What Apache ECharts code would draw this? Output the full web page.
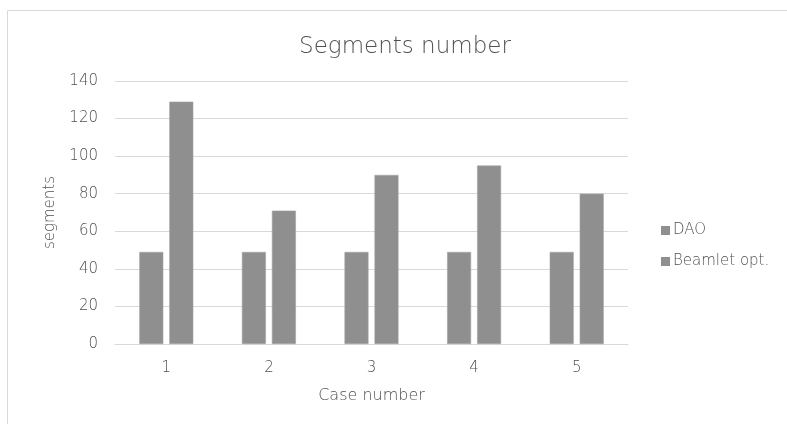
<!DOCTYPE html>
<html>
<head>
<meta charset="utf-8">
<script src="https://cdn.jsdelivr.net/npm/echarts@6/dist/echarts.min.js"></script>
<style>
  html, body { margin: 0; padding: 0; background: #fff; }
  #chart { width: 787px; height: 424px; }
</style>
</head>
<body>
<div id="chart"></div>
<script>
// Segment counts per case for the two planning methods
const cases = ['1', '2', '3', '4', '5'];
const daoSegments = [49, 49, 49, 49, 49];
const beamletSegments = [129, 71, 90, 95, 80];
const seriesNames = ['DAO', 'Beamlet opt.'];

const textColor = '#505050';
const barColor = '#8f8f8f';
const fontFamily = '"DejaVu Sans", "Noto Sans", sans-serif';
const fontWeight = 200;

const chart = echarts.init(document.getElementById('chart'));
chart.setOption({
  animation: false,
  textStyle: { fontFamily: fontFamily },
  graphic: [{
    type: 'rect',
    shape: { x: 7.5, y: 10.5, width: 820, height: 440 },
    style: { fill: 'none', stroke: '#d9d9d9', lineWidth: 1 },
    silent: true
  }],
  title: {
    text: 'Segments number',
    left: 400,
    textAlign: 'center',
    top: 31,
    textStyle: { fontFamily: fontFamily, fontSize: 23, fontWeight: fontWeight, color: textColor }
  },
  legend: {
    orient: 'vertical',
    left: 656,
    top: 218,
    itemWidth: 9,
    itemHeight: 9,
    itemGap: 16,
    icon: 'rect',
    itemStyle: { borderWidth: 0 },
    data: seriesNames,
    textStyle: { fontFamily: fontFamily, fontSize: 15, fontWeight: fontWeight, color: textColor, padding: [0, 0, 0, -2] }
  },
  grid: { left: 115, right: 159, top: 81, bottom: 80, containLabel: false },
  xAxis: {
    type: 'category',
    data: cases,
    name: 'Case number',
    nameLocation: 'middle',
    nameGap: 44,
    nameTextStyle: { fontFamily: fontFamily, fontSize: 16, fontWeight: fontWeight, color: textColor },
    axisLine: { lineStyle: { color: '#d9d9d9' } },
    axisTick: { show: false },
    axisLabel: { fontFamily: fontFamily, fontSize: 15, fontWeight: fontWeight, color: textColor, margin: 17 }
  },
  yAxis: {
    type: 'value',
    min: 0,
    max: 140,
    interval: 20,
    name: 'segments',
    nameLocation: 'middle',
    nameGap: 57,
    nameTextStyle: { fontFamily: fontFamily, fontSize: 15, fontWeight: fontWeight, color: textColor },
    axisLine: { show: false },
    axisTick: { show: false },
    splitLine: { lineStyle: { color: '#d9d9d9' } },
    axisLabel: { fontFamily: fontFamily, fontSize: 15, fontWeight: fontWeight, color: textColor, margin: 17 }
  },
  series: [
    {
      name: seriesNames[0],
      type: 'bar',
      data: daoSegments,
      barWidth: 24,
      barGap: '25%',
      itemStyle: { color: barColor, borderColor: '#a3a3a3', borderWidth: 0.6 }
    },
    {
      name: seriesNames[1],
      type: 'bar',
      data: beamletSegments,
      barWidth: 24,
      barGap: '25%',
      itemStyle: { color: barColor, borderColor: '#a3a3a3', borderWidth: 0.6 }
    }
  ]
});
</script>
</body>
</html>
